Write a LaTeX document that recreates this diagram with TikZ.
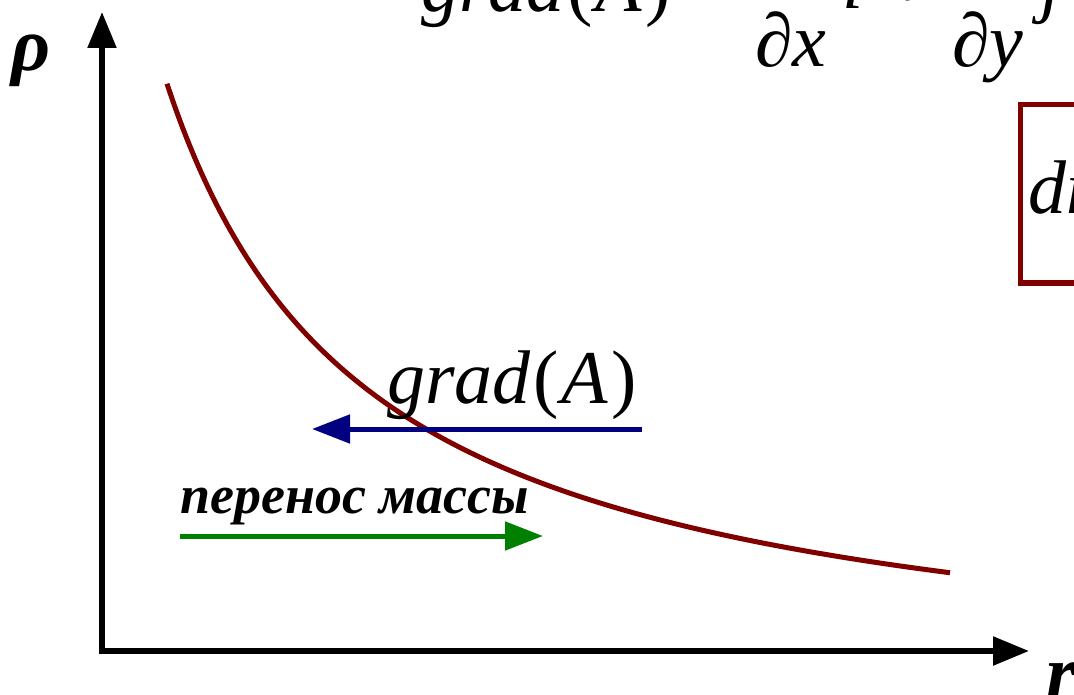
\documentclass[tikz,border=0pt]{standalone}
\usepackage{fontspec}
\setmainfont{Liberation Serif}
\usetikzlibrary{arrows.meta}
\definecolor{curvered}{HTML}{800000}
\definecolor{navyblue}{HTML}{000080}
\definecolor{massgreen}{HTML}{008000}
\newcommand{\fsz}[1]{\fontsize{#1}{#1}\selectfont}
\newcommand{\gradA}{\textit{grad}\kern3pt(\kern2pt\textit{A}\kern4pt)}
\begin{document}
\begin{tikzpicture}[x=1pt,y=-1pt,
  axisline/.style={line width=5.5pt,line cap=rect,-{Triangle[length=36pt,width=28pt]}},
  flowline/.style={line width=5pt,-{Triangle[length=38pt,width=28pt]}},
  curveline/.style={line width=5pt,curvered},
  lbl/.style={inner sep=0pt,anchor=base west},
  mathtxt/.style={lbl,font=\fsz{76}},
  axlbl/.style={lbl,font=\fsz{76}\bfseries\itshape}]
\clip (0,0) rectangle (1074,695);
\fill[white] (0,0) rectangle (1074,695);
% axes
\coordinate (O) at (102,651);
\coordinate (ytip) at (102,12);
\coordinate (xtip) at (1029,651);
\draw[axisline] (O) -- (ytip);
\draw[axisline] (O) -- (xtip);
\node[axlbl] (rho) at (11,71) {ρ};
\node[axlbl] (rlab) at (1046,698) {r};
% curve
\draw[curveline] plot[domain=167:950,samples=150,smooth] (\x,{699.5-1250/((\x+36)/100)});
% arrows
\coordinate (gradstart) at (642,429);
\coordinate (gradend) at (312,429);
\draw[flowline,navyblue] (gradstart) -- (gradend);
\coordinate (massstart) at (180,536);
\coordinate (massend) at (543,536);
\draw[flowline,massgreen] (massstart) -- (massend);
\node[mathtxt] (gradlow) at (387,403) {\gradA};
\node[lbl,font=\fsz{54}\bfseries\itshape] (mass) at (180,513) {перенос массы};
% top formula (cut off)
\node[mathtxt] (gradtop) at (421,12) {\gradA};
\node[mathtxt] (dx) at (755,67) {∂\textit{x}};
\node[mathtxt] (ivec) at (842,9) {\textit{i}};
\node[mathtxt] (plus) at (886,9) {+};
\node[mathtxt] (dy) at (952,67) {∂\textit{y}};
\node[mathtxt] (jvec) at (1040,9) {\textit{j}};
% boxed formula (cut off)
\draw[line width=5pt,curvered] (1020,105) rectangle (1110,283);
\node[mathtxt] (fick) at (1028,214) {\textit{dm}};
\end{tikzpicture}
\end{document}
